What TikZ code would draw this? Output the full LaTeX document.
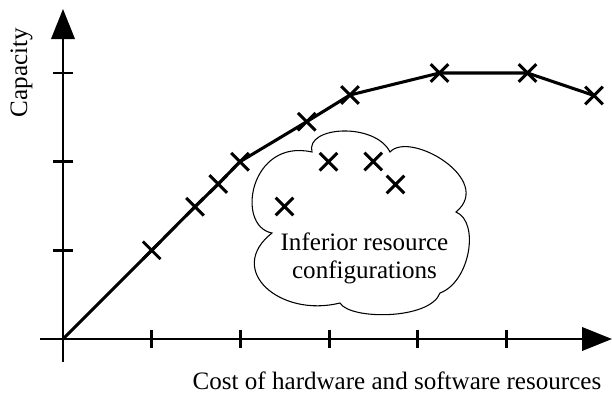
\documentclass[tikz,border=0pt]{standalone}
\usepackage{fontspec}
\setmainfont{Liberation Serif}
\usetikzlibrary{arrows.meta,shapes.misc}
\begin{document}
\begin{tikzpicture}[x=0.75pt,y=-0.75pt,
  axisline/.style={line width=2.1pt,-{Triangle[length=22.5pt,width=17.5pt]}},
  tickline/.style={line width=2.1pt},
  curveline/.style={line width=2.3pt,line join=miter},
  mk/.style={cross out,draw,line width=2.2pt,minimum size=11pt,inner sep=0pt},
  lbl/.style={font=\fontsize{18.8pt}{21pt}\selectfont},
  cloudline/.style={line width=0.8pt}]
\useasboundingbox (0,0) rectangle (612,397);
% axes
\coordinate (ybot) at (63,362);
\coordinate (ytop) at (63,9);
\coordinate (xleft) at (40,339);
\coordinate (xright) at (612,339);
\draw[axisline] (ybot) -- (ytop);
\draw[axisline] (xleft) -- (xright);
\foreach \t in {151.7,240.4,329.1,417.8,506.5}
  \draw[tickline] (\t,330) -- (\t,348);
\foreach \t in {250.3,161.6,72.9}
  \draw[tickline] (53,\t) -- (73,\t);
% cloud
\draw[cloudline] (272,233) .. controls (235,226) and (250,138) .. (312,152)
  .. controls (305,126) and (375,122) .. (390,152)
  .. controls (410,130) and (495,180) .. (456,212)
  .. controls (480,222) and (470,282) .. (440,293)
  .. controls (430,320) and (350,320) .. (340,303)
  .. controls (280,318) and (225,270) .. cycle;
% curve
\coordinate (c0) at (63,339);
\coordinate (c1) at (151.7,250.3);
\coordinate (c2) at (195,206.7);
\coordinate (c3) at (218.3,184);
\coordinate (c4) at (240,161.7);
\coordinate (c5) at (306.7,121.7);
\coordinate (c6) at (350,95);
\coordinate (c7) at (439.5,73);
\coordinate (c8) at (527.5,73);
\coordinate (c9) at (594,95.5);
\draw[curveline] (c0) -- (c1) -- (c2) -- (c3) -- (c4) -- (c5) -- (c6) -- (c7) -- (c8) -- (c9);
\foreach \p in {c1,c2,c3,c4,c5,c6,c7,c8,c9}
  \node[mk] (m\p) at (\p) {};
% inferior configurations
\coordinate (d1) at (284.5,206.5);
\coordinate (d2) at (328.5,161.7);
\coordinate (d3) at (373.3,161.5);
\coordinate (d4) at (395.5,184.5);
\foreach \p in {d1,d2,d3,d4}
  \node[mk] (m\p) at (\p) {};
% labels
\node[lbl,rotate=90,anchor=base] (ylabel) at (27,72.5) {Capacity};
\node[lbl,anchor=base] (xlabel) at (397,389) {Cost of hardware and software resources};
\node[lbl,align=center,anchor=base] (cloudtext) at (364.5,278) {Inferior resource\\configurations};
\end{tikzpicture}
\end{document}
